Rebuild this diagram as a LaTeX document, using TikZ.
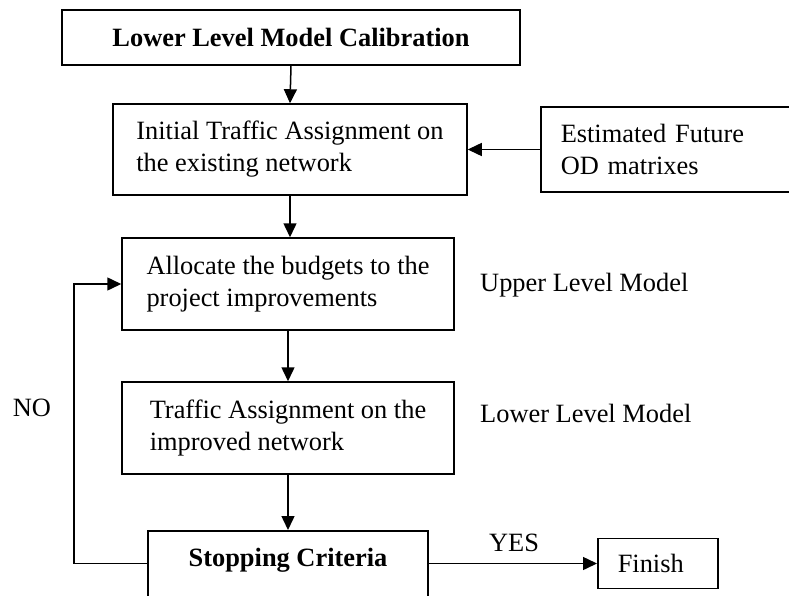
\documentclass[tikz,border=0pt]{standalone}
\usepackage{fontspec}
\setmainfont{Liberation Serif}
\usetikzlibrary{arrows.meta}

\begin{document}
\begin{tikzpicture}[x=1pt, y=-1pt,
  every node/.style={font=\fontsize{26.4}{32}\selectfont},
  procbox/.style={draw, line width=1.5pt, rectangle, align=left, inner sep=0pt},
  plain/.style={inner sep=0pt},
  arr/.style={line width=1.5pt, -{Triangle[length=14pt, width=13pt]}}
]
\useasboundingbox (0,0) rectangle (789,596);
\clip (0,0) rectangle (789,596);
\fill[white] (0,0) rectangle (789,596);

% process boxes
\node[procbox, minimum width=458pt, minimum height=55pt] (calib) at (291,37.5)
  {\textbf{Lower Level Model Calibration}};
\node[procbox, minimum width=354pt, minimum height=91pt] (init) at (290,149.5)
  {Initial Traffic Assignment on\\the existing network};
\node[procbox, anchor=west, text width=240pt, inner xsep=20pt, minimum height=85pt] (od) at (540,149.5)
  {Estimated Future\\OD matrixes};
\node[procbox, minimum width=332pt, minimum height=92pt] (alloc) at (288,284)
  {Allocate the budgets to the\\project improvements};
\node[procbox, minimum width=332pt, minimum height=92pt] (traffic) at (288,428)
  {Traffic Assignment on the\\improved network};
\node[procbox, anchor=north, align=center, minimum width=280pt, text height=18pt, text depth=60pt, inner ysep=18pt] (stop) at (288,530)
  {\textbf{Stopping Criteria}};
\node[procbox, anchor=west, text width=80pt, inner xsep=20pt, minimum height=50pt] (finish) at (597,563.5)
  {Finish};

% side labels
\node[plain, anchor=west] (upper) at (480,285) {Upper Level Model};
\node[plain, anchor=west] (lower) at (480,413) {Lower Level Model};
\node[plain] (no) at (32,408) {NO};
\node[plain] (yes) at (514,543) {YES};

% connectors
\draw[arr] (calib.south) -- (init.north);
\draw[arr] (od.west) -- (init.east);
\draw[arr] (init.south) -- (init.south |- alloc.north);
\draw[arr] (alloc.south) -- (traffic.north);
\draw[arr] (traffic.south) -- (stop.north);
\draw[arr] (stop.east |- finish.west) -- (finish.west);
\coordinate (turn) at (74,563.5);
\draw[arr] (stop.west |- turn) -- (turn) |- (alloc.west);
\end{tikzpicture}
\end{document}
